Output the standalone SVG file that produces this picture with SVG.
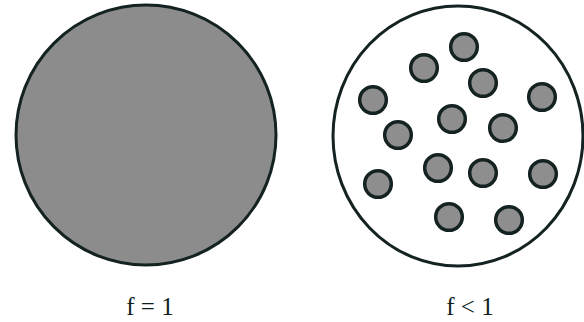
<svg xmlns="http://www.w3.org/2000/svg" width="584" height="322" viewBox="0 0 584 322">
<style>
.big{stroke:#142222;stroke-width:3}
.dot{fill:#8e8e8e;stroke:#142222;stroke-width:3.5}
.lbl{font-family:"Liberation Serif","Times New Roman",serif;font-size:25px;fill:#0f1f1f;text-anchor:middle}
</style>
<rect width="584" height="322" fill="#ffffff"/>
<g id="full">
<circle class="big" cx="146" cy="135" r="130" fill="#8c8c8c"/>
<text class="lbl" x="150" y="315">f = 1</text>
</g>
<g id="partial">
<ellipse class="big" cx="458" cy="136" rx="125" ry="130" fill="#ffffff"/>
<circle class="dot" cx="464" cy="47" r="13.3"/>
<circle class="dot" cx="424" cy="68" r="13.3"/>
<circle class="dot" cx="483" cy="83" r="13.3"/>
<circle class="dot" cx="373" cy="100" r="13.3"/>
<circle class="dot" cx="542" cy="97" r="13.3"/>
<circle class="dot" cx="452" cy="119" r="13.3"/>
<circle class="dot" cx="398" cy="135" r="13.3"/>
<circle class="dot" cx="503" cy="128" r="13.3"/>
<circle class="dot" cx="438" cy="168" r="13.3"/>
<circle class="dot" cx="483" cy="173" r="13.3"/>
<circle class="dot" cx="543" cy="174" r="13.3"/>
<circle class="dot" cx="378" cy="184" r="13.3"/>
<circle class="dot" cx="449" cy="217" r="13.3"/>
<circle class="dot" cx="509" cy="220" r="13.3"/>
<text class="lbl" x="470" y="315">f &lt; 1</text>
</g>
</svg>
